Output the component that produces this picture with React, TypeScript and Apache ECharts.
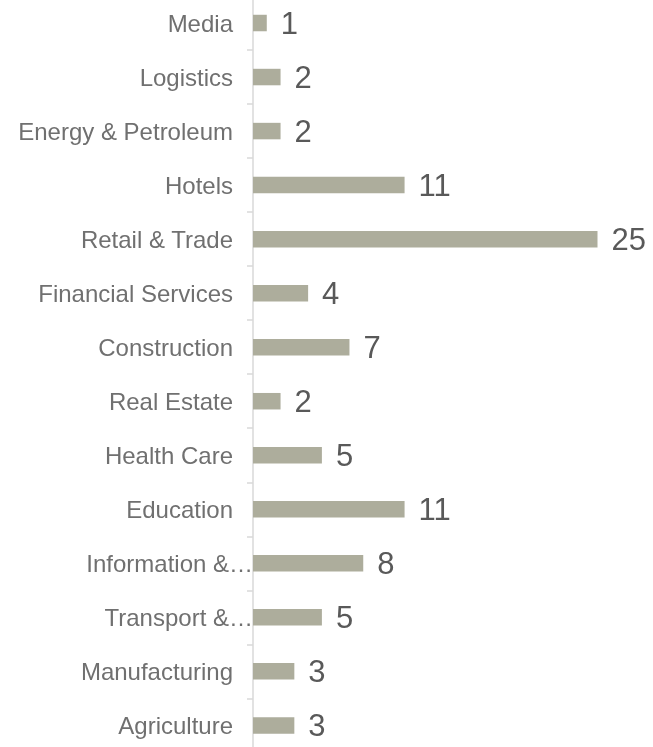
import React, { useEffect, useRef } from "react";
import * as echarts from "echarts";

const categories = [
  "Media",
  "Logistics",
  "Energy & Petroleum",
  "Hotels",
  "Retail & Trade",
  "Financial Services",
  "Construction",
  "Real Estate",
  "Health Care",
  "Education",
  "Information &…",
  "Transport &…",
  "Manufacturing",
  "Agriculture",
];
const values = [1, 2, 2, 11, 25, 4, 7, 2, 5, 11, 8, 5, 3, 3];
const truncated = ["Information &…", "Transport &…"];

export default function App() {
  const ref = useRef<HTMLDivElement>(null);
  useEffect(() => {
    if (!ref.current) return;
    const chart = echarts.init(ref.current, undefined, { renderer: "svg" });
    chart.setOption({
      animation: false,
      grid: { left: 253, top: 0, width: 344.5, height: 756.4, containLabel: false },
      xAxis: {
        type: "value",
        min: 0,
        max: 25,
        show: false,
        splitLine: { show: false },
      },
      yAxis: {
        type: "category",
        inverse: true,
        data: categories.map((c) =>
          truncated.includes(c)
            ? { value: c, textStyle: { padding: [0, -20, 0, 0] } }
            : c
        ),
        axisLine: { show: true, lineStyle: { color: "#D9D9D9", width: 1.5 } },
        axisTick: { show: true, length: 6, lineStyle: { color: "#D9D9D9", width: 1.5 } },
        axisLabel: {
          margin: 20,
          fontFamily: "Liberation Sans, Arial, sans-serif",
          fontSize: 24,
          color: "#707070",
        },
      },
      series: [
        {
          type: "bar",
          data: values,
          barWidth: 16.5,
          itemStyle: { color: "#ADAD9C" },
          label: {
            show: true,
            position: "right",
            distance: 14,
            fontFamily: "Liberation Sans, Arial, sans-serif",
            fontSize: 31,
            color: "#595959",
          },
        },
      ],
    });
    return () => chart.dispose();
  }, []);
  return (
    <div
      style={{
        position: "fixed",
        left: 0,
        top: 0,
        width: 653,
        height: 747,
        overflow: "hidden",
      }}
    >
      <div
        ref={ref}
        style={{ position: "absolute", left: 0, top: -4, width: 653, height: 757 }}
      />
    </div>
  );
}
